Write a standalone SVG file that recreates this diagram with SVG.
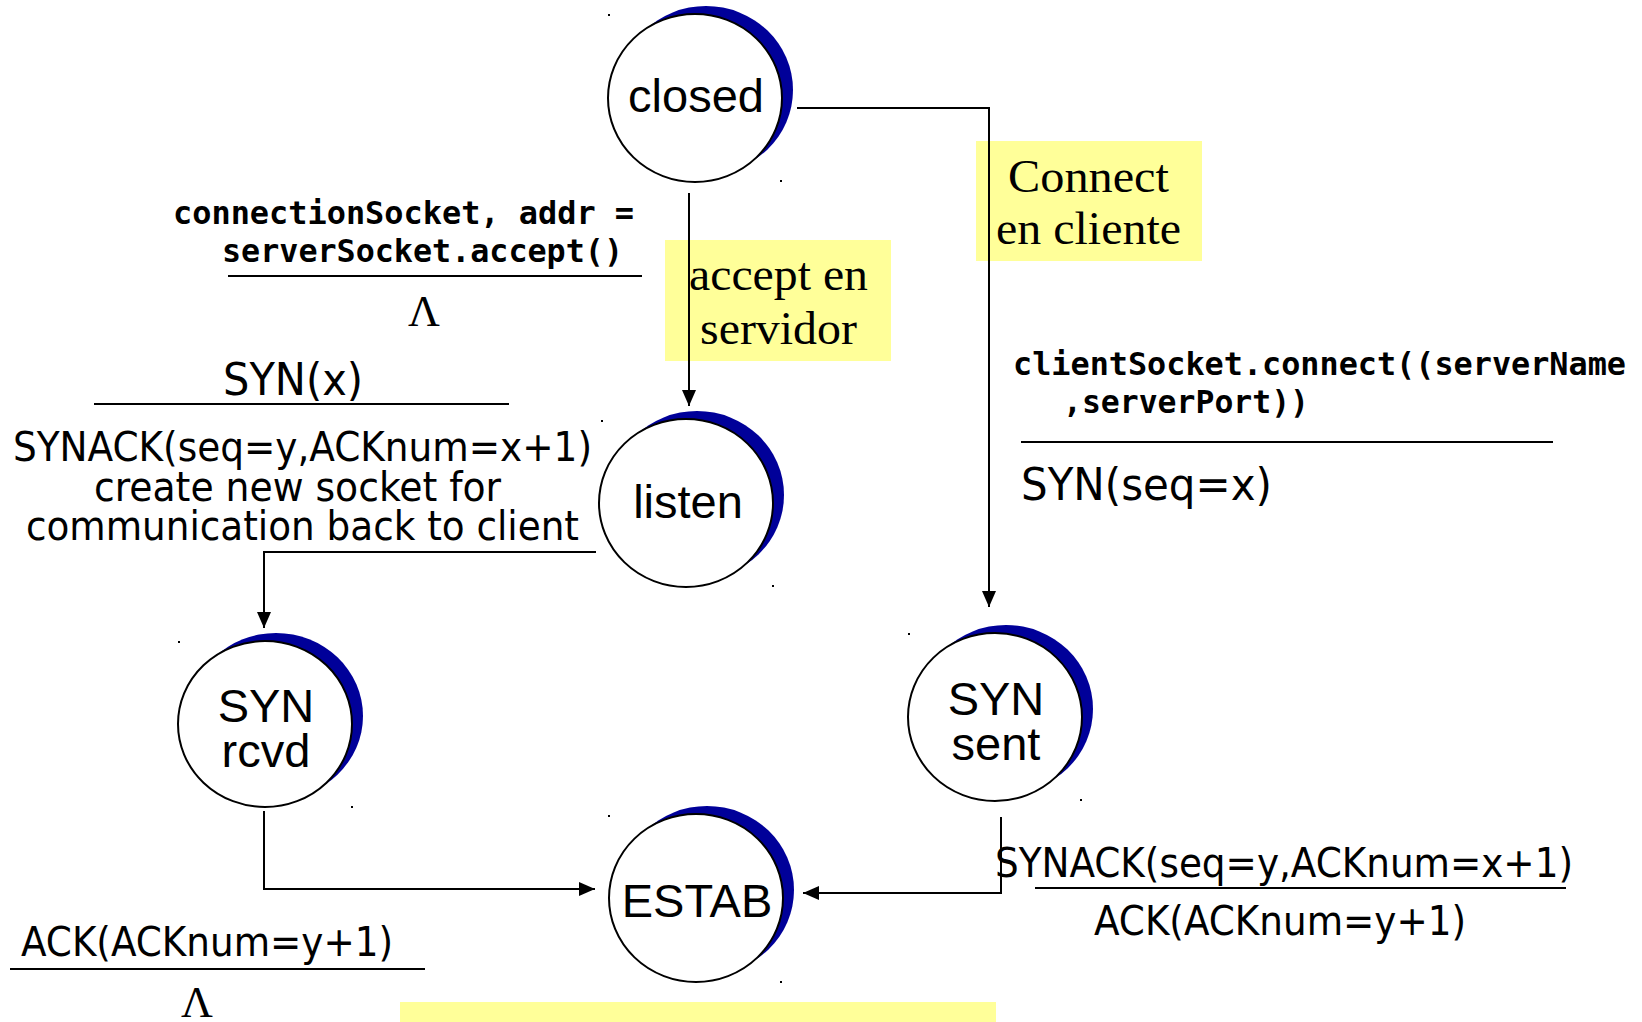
<svg xmlns="http://www.w3.org/2000/svg" width="1642" height="1022" viewBox="0 0 1642 1022">
<style>
.bg{fill:#ffffff}
.moon{fill:#000099;stroke:none}
.st{fill:#ffffff;stroke:#000000;stroke-width:2}
.nt{font-family:"Liberation Sans",Arial,sans-serif;font-size:47px;fill:#000;text-anchor:middle}
.dot{fill:#000}
.con{fill:none;stroke:#000;stroke-width:2}
.rule{stroke:#000;stroke-width:2}
.lbl{font-family:"DejaVu Sans Condensed","DejaVu Sans",sans-serif;font-stretch:condensed;fill:#000}
.code{font-family:"DejaVu Sans Mono","Liberation Mono",monospace;font-weight:bold;font-size:32px;fill:#000}
.ser{font-family:"Liberation Serif","Times New Roman",serif;fill:#000}
.note{fill:#ffff99}
</style>
<defs>
<marker id="ah" markerUnits="userSpaceOnUse" markerWidth="16" markerHeight="14" refX="16" refY="7" orient="auto">
<path d="M0,0 L16,7 L0,14 Z" fill="#000"/>
</marker>
</defs>
<rect class="bg" x="0" y="0" width="1642" height="1022"/>

<g id="notes">
<rect class="note" x="665" y="240" width="226" height="121"/>
<text class="ser" x="689" y="290" font-size="46" textLength="179" lengthAdjust="spacingAndGlyphs">accept en</text>
<text class="ser" x="700" y="344" font-size="46" textLength="157" lengthAdjust="spacingAndGlyphs">servidor</text>
<rect class="note" x="976" y="141" width="226" height="120"/>
<text class="ser" x="1008" y="192" font-size="47" textLength="161" lengthAdjust="spacingAndGlyphs">Connect</text>
<text class="ser" x="996" y="244" font-size="47" textLength="185" lengthAdjust="spacingAndGlyphs">en cliente</text>
<rect class="note" x="400" y="1002" width="596" height="20"/>
</g>

<g id="node-closed">
<ellipse class="moon" cx="706" cy="90" rx="87" ry="84"/>
<ellipse class="st" cx="695" cy="98" rx="87" ry="84"/>
<text class="nt" x="696" y="112">closed</text>
<rect class="dot" x="608" y="14" width="2" height="2"/>
<rect class="dot" x="780" y="180" width="2" height="2"/>
</g>

<g id="node-listen">
<ellipse class="moon" cx="697" cy="495" rx="87" ry="84"/>
<ellipse class="st" cx="686" cy="503" rx="87" ry="84"/>
<text class="nt" x="688" y="518">listen</text>
<rect class="dot" x="601" y="420" width="2" height="2"/>
<rect class="dot" x="772" y="585" width="2" height="2"/>
</g>

<g id="node-synrcvd">
<ellipse class="moon" cx="276" cy="716" rx="87" ry="83"/>
<ellipse class="st" cx="265" cy="724" rx="87" ry="83"/>
<text class="nt" x="266" y="722">SYN</text>
<text class="nt" x="266" y="767">rcvd</text>
<rect class="dot" x="178" y="641" width="2" height="2"/>
<rect class="dot" x="351" y="806" width="2" height="2"/>
</g>

<g id="node-synsent">
<ellipse class="moon" cx="1006" cy="709" rx="87" ry="84"/>
<ellipse class="st" cx="995" cy="717" rx="87" ry="84"/>
<text class="nt" x="996" y="715">SYN</text>
<text class="nt" x="996" y="760">sent</text>
<rect class="dot" x="908" y="633" width="2" height="2"/>
<rect class="dot" x="1080" y="799" width="2" height="2"/>
</g>

<g id="node-estab">
<ellipse class="moon" cx="707" cy="890" rx="87" ry="84"/>
<ellipse class="st" cx="696" cy="898" rx="87" ry="84"/>
<text class="nt" x="697" y="917">ESTAB</text>
<rect class="dot" x="608" y="815" width="2" height="2"/>
<rect class="dot" x="780" y="981" width="2" height="2"/>
</g>

<g id="connectors">
<polyline class="con" points="797,108 989,108 989,607" marker-end="url(#ah)"/>
<polyline class="con" points="689,193 689,406" marker-end="url(#ah)"/>
<polyline class="con" points="596,552 264,552 264,628" marker-end="url(#ah)"/>
<polyline class="con" points="264,811 264,889 595,889" marker-end="url(#ah)"/>
<polyline class="con" points="1001,817 1001,893 803,893" marker-end="url(#ah)"/>
</g>

<g id="labels">
<text class="code" x="173" y="224" textLength="461" lengthAdjust="spacingAndGlyphs">connectionSocket, addr =</text>
<text class="code" x="222" y="262" textLength="401" lengthAdjust="spacingAndGlyphs">serverSocket.accept()</text>
<line class="rule" x1="228" y1="276" x2="642" y2="276"/>
<text class="ser" x="424" y="326" font-size="44" text-anchor="middle">Λ</text>

<text class="lbl" x="223" y="395" font-size="45" textLength="140" lengthAdjust="spacingAndGlyphs">SYN(x)</text>
<line class="rule" x1="94" y1="404" x2="509" y2="404"/>
<text class="lbl" x="13" y="461" font-size="40" textLength="579" lengthAdjust="spacingAndGlyphs">SYNACK(seq=y,ACKnum=x+1)</text>
<text class="lbl" x="94" y="501" font-size="40" textLength="407" lengthAdjust="spacingAndGlyphs">create new socket for</text>
<text class="lbl" x="26" y="540" font-size="40" textLength="553" lengthAdjust="spacingAndGlyphs">communication back to client</text>

<text class="code" x="1013" y="375" textLength="613" lengthAdjust="spacingAndGlyphs">clientSocket.connect((serverName</text>
<text class="code" x="1063" y="413" textLength="246" lengthAdjust="spacingAndGlyphs">,serverPort))</text>
<line class="rule" x1="1021" y1="442" x2="1553" y2="442"/>
<text class="lbl" x="1021" y="500" font-size="45" textLength="251" lengthAdjust="spacingAndGlyphs">SYN(seq=x)</text>

<text class="lbl" x="995" y="877" font-size="40" textLength="578" lengthAdjust="spacingAndGlyphs">SYNACK(seq=y,ACKnum=x+1)</text>
<line class="rule" x1="1035" y1="888" x2="1566" y2="888"/>
<text class="lbl" x="1094" y="935" font-size="40" textLength="372" lengthAdjust="spacingAndGlyphs">ACK(ACKnum=y+1)</text>

<text class="lbl" x="21" y="956" font-size="40" textLength="372" lengthAdjust="spacingAndGlyphs">ACK(ACKnum=y+1)</text>
<line class="rule" x1="10" y1="969" x2="425" y2="969"/>
<text class="ser" x="197" y="1017" font-size="44" text-anchor="middle">Λ</text>
</g>
</svg>
